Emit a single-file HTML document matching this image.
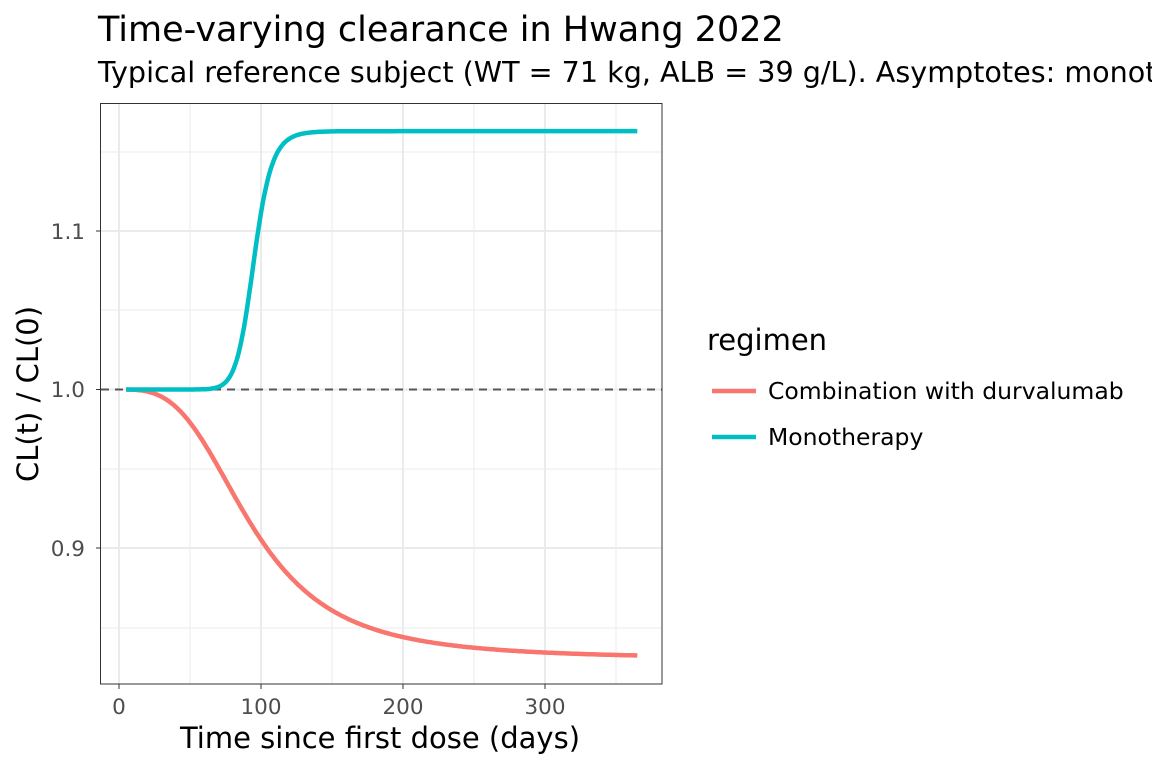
<!DOCTYPE html>
<html><head><meta charset="utf-8"><style>
html,body{margin:0;padding:0;background:#fff;width:1152px;height:768px;overflow:hidden}
text{font-family:"DejaVu Sans","Liberation Sans",sans-serif}
</style></head><body>
<svg id="s" width="1152" height="768" viewBox="0 0 1152 768" xmlns="http://www.w3.org/2000/svg">
<rect width="1152" height="768" fill="#fff"/>
<text x="98" y="41" font-size="35" fill="#000">Time-varying clearance in Hwang 2022</text>
<text x="98" y="82" font-size="28.6" fill="#000">Typical reference subject (WT = 71 kg, ALB = 39 g/L). Asymptotes: monotherapy</text>
<g stroke="#ebebeb" stroke-width="1">
<line x1="101" x2="662" y1="152" y2="152"/><line x1="101" x2="662" y1="310" y2="310"/>
<line x1="101" x2="662" y1="469" y2="469"/><line x1="101" x2="662" y1="628" y2="628"/>
<line y1="103" y2="684" x1="190" x2="190"/><line y1="103" y2="684" x1="332" x2="332"/>
<line y1="103" y2="684" x1="474" x2="474"/><line y1="103" y2="684" x1="616" x2="616"/>
</g>
<g stroke="#ebebeb" stroke-width="2">
<line x1="101" x2="662" y1="231" y2="231"/><line x1="101" x2="662" y1="389.5" y2="389.5"/>
<line x1="101" x2="662" y1="548" y2="548"/>
<line y1="103" y2="684" x1="119" x2="119"/><line y1="103" y2="684" x1="261" x2="261"/>
<line y1="103" y2="684" x1="403" x2="403"/><line y1="103" y2="684" x1="545" x2="545"/>
</g>
<line x1="101" x2="662" y1="389.5" y2="389.5" stroke="#555" stroke-width="2" stroke-dasharray="8,6"/>
<path id="combo" fill="none" stroke="#F8766D" stroke-width="4.5"/>
<path id="mono" fill="none" stroke="#00BFC4" stroke-width="4.5"/>
<rect x="100.5" y="103.5" width="561.5" height="580.5" fill="none" stroke="#333" stroke-width="1"/>
<g font-size="21.5" fill="#4d4d4d" text-anchor="end">
<text x="85" y="239">1.1</text><text x="85" y="397">1.0</text><text x="85" y="556">0.9</text>
</g>
<g stroke="#333"><line x1="96" x2="100" y1="231" y2="231"/><line x1="96" x2="100" y1="389.5" y2="389.5"/><line x1="96" x2="100" y1="548" y2="548"/>
<line x1="119" x2="119" y1="684" y2="689"/><line x1="261" x2="261" y1="684" y2="689"/><line x1="403" x2="403" y1="684" y2="689"/><line x1="545" x2="545" y1="684" y2="689"/></g>
<g font-size="21.5" fill="#4d4d4d" text-anchor="middle">
<text x="119" y="714">0</text><text x="261" y="714">100</text><text x="403" y="714">200</text><text x="545" y="714">300</text>
</g>
<text x="380" y="748" font-size="29" text-anchor="middle">Time since first dose (days)</text>
<text transform="translate(38,394) rotate(-90)" font-size="29" text-anchor="middle">CL(t) / CL(0)</text>
<text x="707" y="350" font-size="29">regimen</text>
<line x1="712" x2="756" y1="391" y2="391" stroke="#F8766D" stroke-width="4.5"/>
<line x1="712" x2="756" y1="437" y2="437" stroke="#00BFC4" stroke-width="4.5"/>
<text x="768" y="399" font-size="23.5">Combination with durvalumab</text>
<text x="768" y="445" font-size="23.5">Monotherapy</text>
</svg>
<script>
function X(t){return 119+1.42*t}function Y(v){return 389.5-(v-1)*1585}
var c="",m="";
for(var t=5;t<=365;t+=1){
 var a=Math.pow(t/93,3.17),fc=a/(1+a);
 var b=Math.pow(t/95,15),fm=b/(1+b);
 var s=(t==5?"M":"L");
 c+=s+X(t).toFixed(1)+","+Y(1-0.17*fc).toFixed(1);
 m+=s+X(t).toFixed(1)+","+Y(1+0.163*fm).toFixed(1);
}
document.getElementById("combo").setAttribute("d",c);
document.getElementById("mono").setAttribute("d",m);
</script>
</body></html>
